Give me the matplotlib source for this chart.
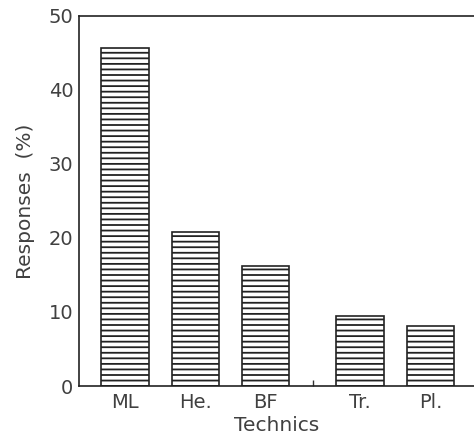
import matplotlib.pyplot as plt

techniques = ['ML', 'He.', 'BF', 'Tr.', 'Pl.']
responses = [45.7, 20.8, 16.2, 9.4, 8.1]
y_ticks = [0, 10, 20, 30, 40, 50]

plt.rcParams['hatch.linewidth'] = 1.3
plt.rcParams['hatch.color'] = '#333333'

# bars sit on a slightly wider gap between BF and Tr.
xpos = [0, 1, 2, 3.34, 4.34]
txt = '#404040'

fig = plt.figure(figsize=(4.74, 4.41), dpi=100)
ax = fig.add_axes([0.1667, 0.1247, 0.8333, 0.8397])

ax.bar(xpos, responses, width=0.67, color='white', edgecolor='#222222',
       linewidth=1.2, hatch='---')

ax.set_xlim(-0.654, 4.96)
ax.set_ylim(0, 50)
ax.set_yticks(y_ticks)
ax.set_xticks(xpos)
ax.set_xticklabels(techniques)
ax.set_xticks([1, (2 + 3.34) / 2, 4.34], minor=True)

ax.tick_params(axis='x', which='major', length=0, pad=5, labelsize=14, colors=txt)
ax.tick_params(axis='x', which='minor', direction='in', length=4, width=1, color='#333333')
ax.tick_params(axis='y', length=0, pad=4, labelsize=14, colors=txt)

ax.spines['right'].set_visible(False)
for s in ['left', 'top', 'bottom']:
    ax.spines[s].set_linewidth(1.2)
    ax.spines[s].set_color('#222222')

ax.set_xlabel('Technics', fontsize=14.5, color=txt, labelpad=3)
ax.set_ylabel('Responses  (%)', fontsize=14.5, color=txt, labelpad=10)

plt.savefig('out.png', dpi=100)
